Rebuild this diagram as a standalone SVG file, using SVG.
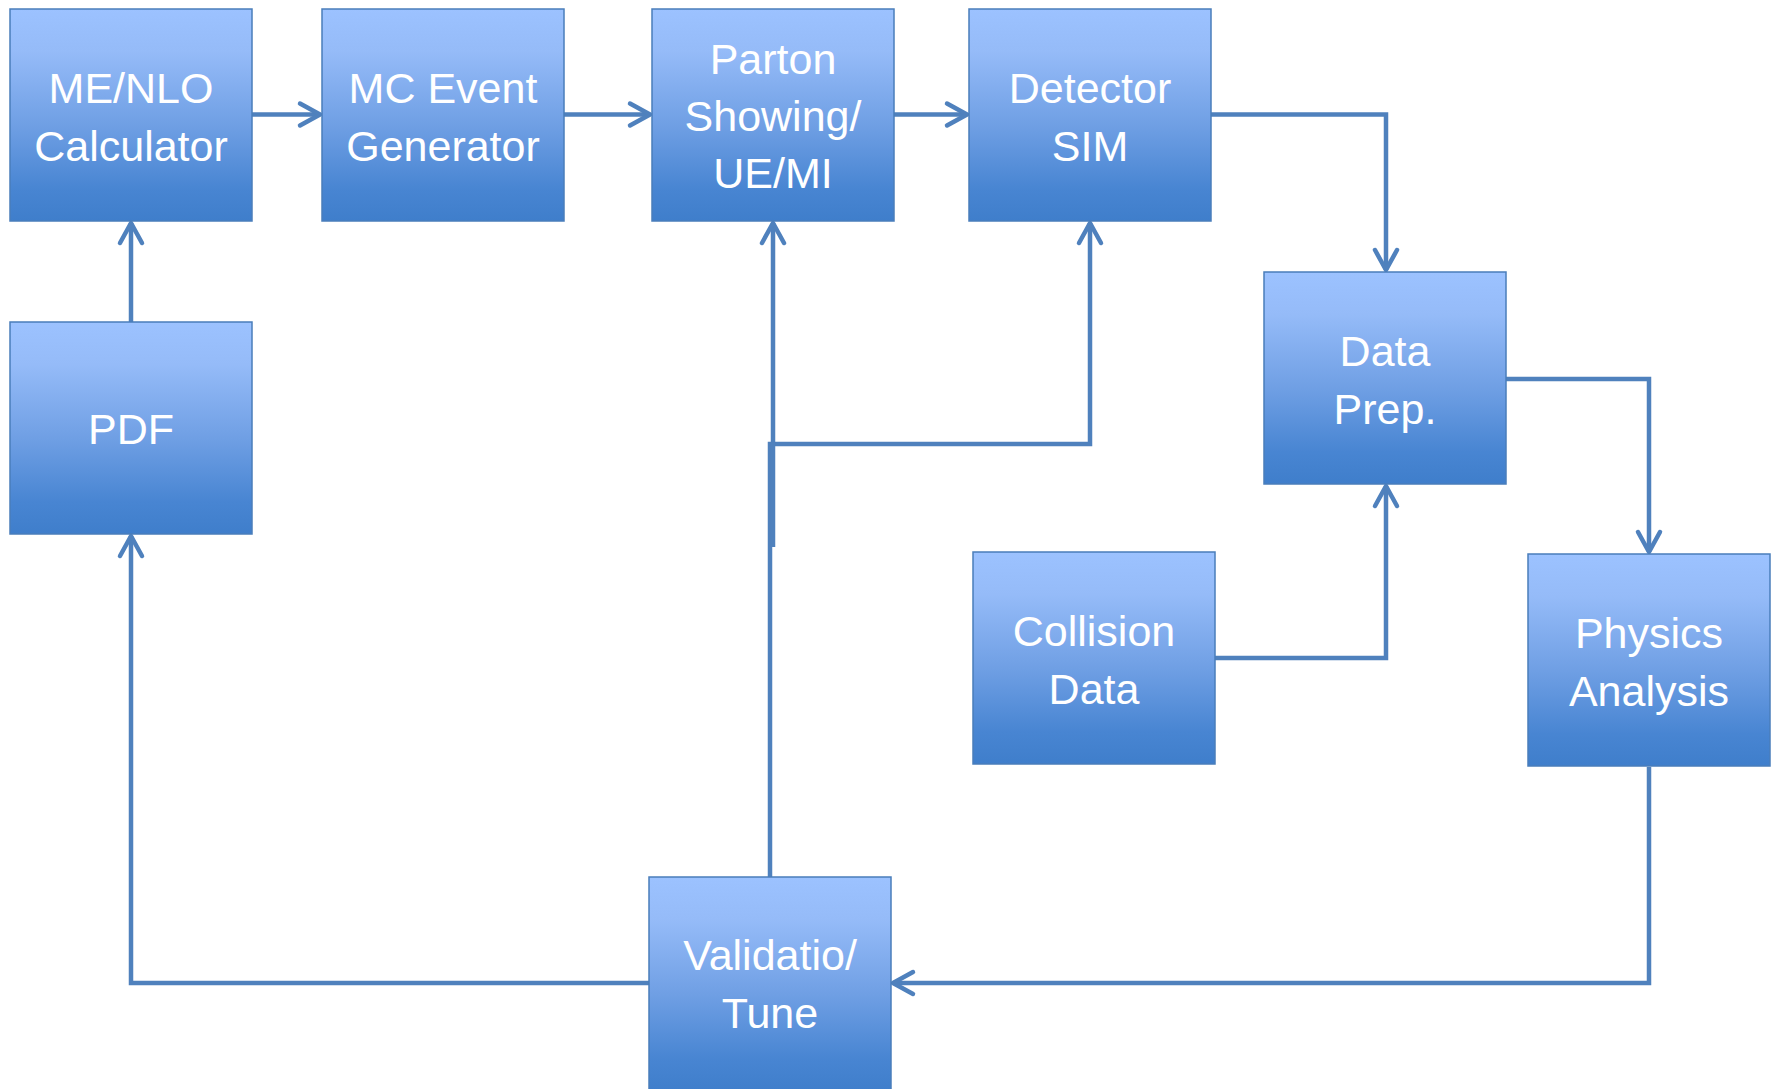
<svg xmlns="http://www.w3.org/2000/svg" width="1778" height="1089" viewBox="0 0 1778 1089">
<defs>
<linearGradient id="g" x1="0" y1="0" x2="0" y2="1">
<stop offset="0" stop-color="#9cc2ff"/>
<stop offset="0.2" stop-color="#95bbf8"/>
<stop offset="0.55" stop-color="#6f9fe4"/>
<stop offset="0.85" stop-color="#4885d2"/>
<stop offset="1" stop-color="#3f7ecb"/>
</linearGradient>
<marker id="a" markerUnits="userSpaceOnUse" viewBox="-25 -15 30 30" refX="0" refY="0" markerWidth="30" markerHeight="30" orient="auto" overflow="visible">
<path d="M-20,-11 L0,0 L-20,11" fill="none" stroke="#4f81bd" stroke-width="4.5" stroke-linecap="round" stroke-linejoin="round"/>
</marker>
</defs>
<style>
.box{fill:url(#g);stroke:#4a7ebb;stroke-width:1.5}
.t{fill:#ffffff;font-family:"Liberation Sans",Arial,sans-serif;font-size:43px;text-anchor:middle}
.c{fill:none;stroke:#4f81bd;stroke-width:4.5}
.m{marker-end:url(#a)}
</style>
<rect width="1778" height="1089" fill="#ffffff"/>
<g id="connectors">
<path class="c m" d="M252,114.5 H320"/>
<path class="c m" d="M564,114.5 H650"/>
<path class="c m" d="M894,114.5 H967"/>
<path class="c m" d="M1211,114.5 H1386 V270"/>
<path class="c m" d="M1506,379 H1649 V552"/>
<path class="c m" d="M1214,658 H1386 V486"/>
<path class="c m" d="M1649,767 V983 H893"/>
<path class="c m" d="M649,983 H131 V536"/>
<path class="c m" d="M131,322 V223"/>
<path class="c m" d="M770,877 V444 H1090 V223"/>
<path class="c m" d="M773,547 V223"/>
</g>
<g id="me-nlo">
<rect class="box" x="10" y="9" width="242" height="212"/>
<text class="t" x="131" y="103">ME/NLO</text>
<text class="t" x="131" y="161">Calculator</text>
</g>
<g id="mc-event">
<rect class="box" x="322" y="9" width="242" height="212"/>
<text class="t" x="443" y="103">MC Event</text>
<text class="t" x="443" y="161">Generator</text>
</g>
<g id="parton">
<rect class="box" x="652" y="9" width="242" height="212"/>
<text class="t" x="773" y="74">Parton</text>
<text class="t" x="773" y="131">Showing/</text>
<text class="t" x="773" y="188">UE/MI</text>
</g>
<g id="detector">
<rect class="box" x="969" y="9" width="242" height="212"/>
<text class="t" x="1090" y="103">Detector</text>
<text class="t" x="1090" y="161">SIM</text>
</g>
<g id="data-prep">
<rect class="box" x="1264" y="272" width="242" height="212"/>
<text class="t" x="1385" y="366">Data</text>
<text class="t" x="1385" y="424">Prep.</text>
</g>
<g id="pdf">
<rect class="box" x="10" y="322" width="242" height="212"/>
<text class="t" x="131" y="444">PDF</text>
</g>
<g id="collision">
<rect class="box" x="973" y="552" width="242" height="212"/>
<text class="t" x="1094" y="646">Collision</text>
<text class="t" x="1094" y="704">Data</text>
</g>
<g id="physics">
<rect class="box" x="1528" y="554" width="242" height="212"/>
<text class="t" x="1649" y="648">Physics</text>
<text class="t" x="1649" y="706">Analysis</text>
</g>
<g id="validation">
<rect class="box" x="649" y="877" width="242" height="214"/>
<text class="t" x="770" y="970">Validatio/</text>
<text class="t" x="770" y="1028">Tune</text>
</g>
</svg>
